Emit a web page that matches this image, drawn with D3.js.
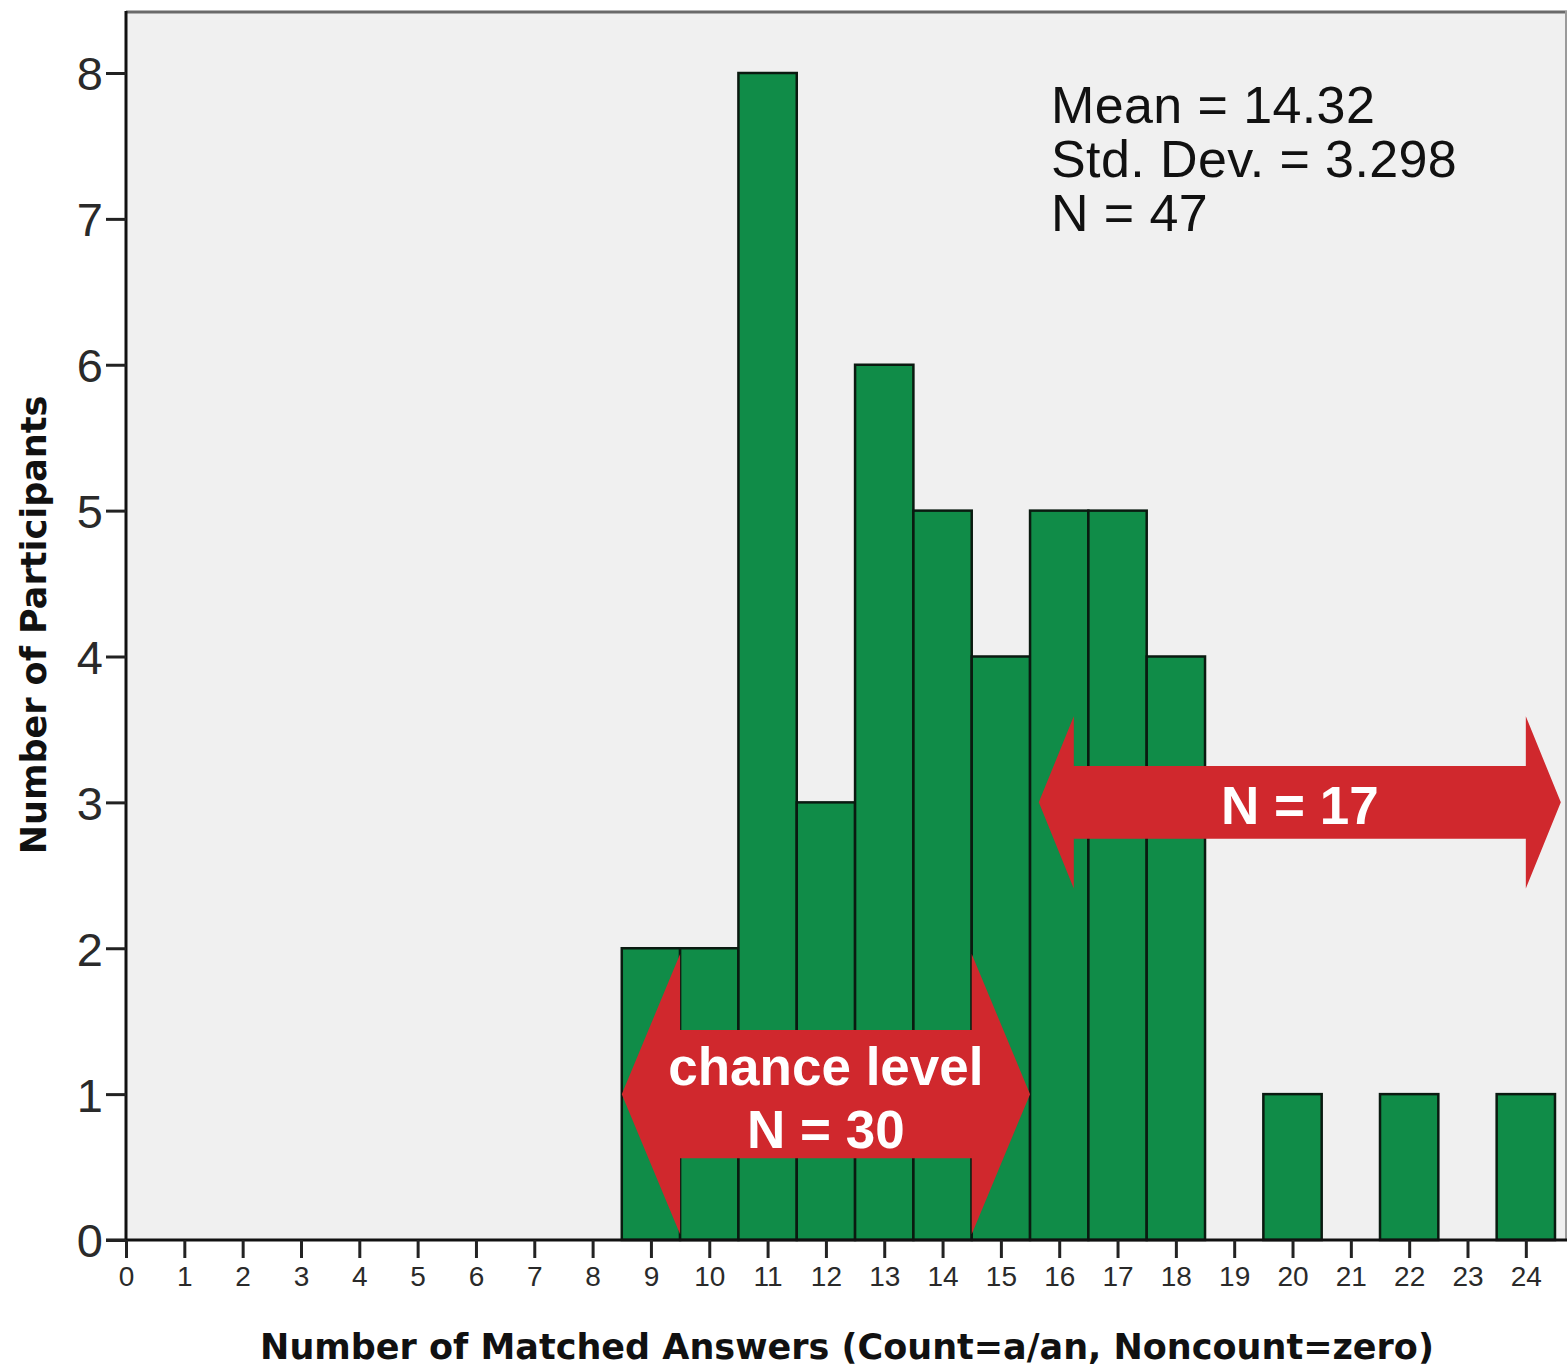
<!DOCTYPE html>
<html>
<head>
<meta charset="utf-8">
<script src="https://cdn.jsdelivr.net/npm/d3@7"></script>
<style>
  html, body { margin: 0; padding: 0; background: #fff; }
  svg { display: block; font-family: 'Liberation Sans', Arial, sans-serif; }
</style>
</head>
<body>
<svg id="chart"></svg>
<script>
// data ---------------------------------------------------
const bins = [9, 10, 11, 12, 13, 14, 15, 16, 17, 18, 19, 20, 21, 22, 23, 24];
const counts = [2, 2, 8, 3, 6, 5, 4, 5, 5, 4, 0, 1, 0, 1, 0, 1];
const xTicks = d3.range(0, 25);
const yTicks = [0, 1, 2, 3, 4, 5, 6, 7, 8];
const statLines = ['Mean = 14.32', 'Std. Dev. = 3.298', 'N = 47'];
const arrowChance = { x0: 8.5, x1: 15.5, y: 1, lines: ['chance level', 'N = 30'] };
const arrowHigh = { x0: 15.65, x1: 24.6, y: 3, lines: ['N = 17'] };

const W = 1567, H = 1369;
const margin = { top: 11, right: 0, bottom: 129, left: 126 };

const svg = d3.select('#chart').attr('width', W).attr('height', H);

const x = d3.scaleLinear().domain([0, 24.706]).range([margin.left, W - margin.right]);
const y = d3.scaleLinear().domain([0, 8.425]).range([H - margin.bottom, margin.top]);

// plot background
svg.append('rect')
  .attr('x', margin.left).attr('y', margin.top)
  .attr('width', W - margin.right - margin.left)
  .attr('height', y(0) - margin.top)
  .attr('fill', '#f0f0f0');
svg.append('line')
  .attr('x1', margin.left).attr('x2', W)
  .attr('y1', margin.top + 1).attr('y2', margin.top + 1)
  .attr('stroke', '#6a6a6a').attr('stroke-width', 3);
svg.append('line')
  .attr('x1', W - 1).attr('x2', W - 1)
  .attr('y1', margin.top).attr('y2', y(0))
  .attr('stroke', '#9a9a9a').attr('stroke-width', 2);

// bars
svg.append('g').selectAll('rect')
  .data(bins.map((b, i) => ({ b, c: counts[i] })).filter(d => d.c > 0))
  .join('rect')
  .attr('x', d => x(d.b - 0.5))
  .attr('y', d => y(d.c))
  .attr('width', d => x(d.b + 0.5) - x(d.b - 0.5))
  .attr('height', d => y(0) - y(d.c))
  .attr('fill', '#108c48')
  .attr('stroke', '#0a1a10')
  .attr('stroke-width', 2.5);

// axes
const xAxis = d3.axisBottom(x).tickValues(xTicks).tickSize(18).tickSizeOuter(0).tickPadding(8);
const gx = svg.append('g').attr('transform', 'translate(0,' + y(0) + ')').call(xAxis);
gx.select('.domain').attr('stroke', '#111').attr('stroke-width', 3).attr('d', 'M' + (margin.left - 20) + ',0H' + W);
gx.selectAll('.tick line').attr('stroke', '#222').attr('stroke-width', 3);
gx.selectAll('.tick text').attr('font-size', 28).attr('fill', '#2a2a2a');

const yAxis = d3.axisLeft(y).tickValues(yTicks).tickSize(20).tickSizeOuter(0).tickPadding(3);
const gy = svg.append('g').attr('transform', 'translate(' + margin.left + ',0)').call(yAxis);
gy.select('.domain').attr('stroke', '#111').attr('stroke-width', 3).attr('d', 'M0,' + margin.top + 'V' + y(0));
gy.selectAll('.tick line').attr('stroke', '#222').attr('stroke-width', 3);
gy.selectAll('.tick text').attr('font-size', 47).attr('fill', '#2a2a2a').attr('dy', '0.36em');

// axis titles
svg.append('text')
  .attr('x', 847).attr('y', 1359)
  .attr('text-anchor', 'middle')
  .attr('font-family', "'DejaVu Sans', sans-serif")
  .attr('font-size', 35).attr('font-weight', 'bold').attr('fill', '#111')
  .text('Number of Matched Answers (Count=a/an, Noncount=zero)');
svg.append('text')
  .attr('transform', 'translate(46,625) rotate(-90)')
  .attr('text-anchor', 'middle')
  .attr('font-family', "'DejaVu Sans', sans-serif")
  .attr('font-size', 35).attr('font-weight', 'bold').attr('fill', '#111')
  .text('Number of Participants');

// stats box
svg.append('g').selectAll('text')
  .data(statLines)
  .join('text')
  .attr('x', 1051)
  .attr('y', (d, i) => 123 + i * 54)
  .attr('font-size', 52).attr('letter-spacing', 0.4).attr('fill', '#111')
  .text(d => d);

// double arrows
function doubleArrow(a, shaftHalf, headHalf, headLen, fontSize, lineGap) {
  const yc = y(a.y);
  const sh = y(a.y - shaftHalf) - yc;
  const hh = y(a.y - headHalf) - yc;
  const xl = x(a.x0), xr = x(a.x1);
  const bl = x(a.x0 + headLen), br = x(a.x1 - headLen);
  const pts = [
    [xl, yc], [bl, yc - hh], [bl, yc - sh], [br, yc - sh], [br, yc - hh],
    [xr, yc], [br, yc + hh], [br, yc + sh], [bl, yc + sh], [bl, yc + hh]
  ];
  svg.append('path')
    .attr('d', d3.line()(pts) + 'Z')
    .attr('fill', '#d0282d');
  const cx = (xl + xr) / 2;
  const n = a.lines.length;
  svg.append('g').selectAll('text')
    .data(a.lines)
    .join('text')
    .attr('x', cx)
    .attr('y', (d, i) => yc + 3 + (i - (n - 1) / 2) * lineGap)
    .attr('dy', '0.36em')
    .attr('text-anchor', 'middle')
    .attr('font-size', fontSize).attr('font-weight', 'bold').attr('fill', '#fff')
    .text(d => d);
}

doubleArrow(arrowChance, 0.44, 0.96, 1.0, 53, 63);
doubleArrow(arrowHigh, 0.25, 0.59, 0.6, 53, 0);
</script>
</body>
</html>
